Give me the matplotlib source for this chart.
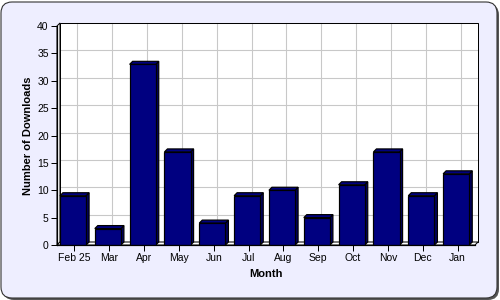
import matplotlib
matplotlib.use("Agg")
import matplotlib.pyplot as plt
from matplotlib.patches import FancyBboxPatch, Polygon, Rectangle
from matplotlib.transforms import IdentityTransform

months = ["Feb 25", "Mar", "Apr", "May", "Jun", "Jul", "Aug", "Sep", "Oct", "Nov", "Dec", "Jan"]
downloads = [9, 3, 33, 17, 4, 9, 10, 5, 11, 17, 9, 13]
y_ticks = [0, 5, 10, 15, 20, 25, 30, 35, 40]

W, H, DPI = 500, 300, 100
plt.rcParams['font.family'] = ['Liberation Sans', 'DejaVu Sans']
fig = plt.figure(figsize=(W / DPI, H / DPI), dpi=DPI)
fig.patch.set_facecolor("white")

# frame with shadow
shadow = FancyBboxPatch((3, 0), 496, 296, boxstyle="round,pad=0,rounding_size=11",
                        transform=IdentityTransform(), facecolor="#555555", edgecolor="none", zorder=-10)
frame = FancyBboxPatch((1, 2), 496, 296, boxstyle="round,pad=0,rounding_size=11",
                       transform=IdentityTransform(), facecolor="#EEEEFF", edgecolor="#333333",
                       linewidth=0.8, zorder=-9)
fig.add_artist(shadow)
fig.add_artist(frame)

L, R, T, B = 57, 475, 26, 245
ax = fig.add_axes([L / W, (H - B) / H, (R - L) / W, (B - T) / H])
ax.set_zorder(1)
ax.set_facecolor("none")
n = len(months)
ax.set_xlim(0, n)
ax.set_ylim(0, 40)

px = 1 / DPI * 72
dx = 3 / ((R - L) / n)
dy = 3 / ((B - T) / 40)

# back wall
ax.add_patch(Rectangle((dx, dy), n, 40, facecolor="white", edgecolor="black",
                       linewidth=px, clip_on=False, zorder=0.5))
for yv in y_ticks:
    ax.plot([dx, n + dx], [yv + dy, yv + dy], color="#C8C8C8", lw=px * 1.1, clip_on=False, zorder=0.6)
for i in range(n):
    ax.plot([i + 0.5 + dx, i + 0.5 + dx], [dy, 40 + dy], color="#C8C8C8", lw=px * 1.1, clip_on=False, zorder=0.6)
ax.add_patch(Rectangle((dx, dy), n, 40, facecolor="none", edgecolor="black",
                       linewidth=px, clip_on=False, zorder=0.7))
# left wall
ax.add_patch(Polygon([(0, 0), (0, 40), (dx, 40 + dy), (dx, dy)], closed=True, facecolor="white",
                     edgecolor="black", linewidth=px, clip_on=False, zorder=0.8))
# floor
ax.add_patch(Polygon([(0, 0), (n, 0), (n + dx, dy), (dx, dy)], closed=True, facecolor="white",
                     edgecolor="black", linewidth=px, clip_on=False, zorder=0.8))

bw = 0.75
navy = "#000080"
for i, v in enumerate(downloads):
    x0 = i + 0.5 - bw / 2 - 0.04
    x1 = x0 + bw
    side = Polygon([(x1, 0), (x1 + dx, dy), (x1 + dx, v + dy), (x1, v)], closed=True,
                   facecolor="#000060", edgecolor="black", linewidth=px * 1.2, zorder=2)
    top = Polygon([(x0, v), (x1, v), (x1 + dx, v + dy), (x0 + dx, v + dy)], closed=True,
                  facecolor=navy, edgecolor="black", linewidth=px * 1.2, zorder=2)
    ax.add_patch(side)
    ax.add_patch(top)
    ax.add_patch(Rectangle((x0, 0), bw, v, facecolor=navy, edgecolor="black",
                           linewidth=px * 1.2, zorder=3))

for s in ["top", "right"]:
    ax.spines[s].set_visible(False)
for s in ["left", "bottom"]:
    ax.spines[s].set_linewidth(px * 1.2)
    ax.spines[s].set_color("black")
    ax.spines[s].set_zorder(4)

ax.set_yticks(y_ticks)
ax.set_yticklabels([str(t) for t in y_ticks])
ax.set_xticks([i + 0.5 for i in range(n)])
ax.set_xticklabels(months)
ax.tick_params(axis="both", length=4, width=px, color="black", labelsize=7.5, pad=2)

ax.set_ylabel("Number of Downloads", fontsize=8, fontweight="bold", labelpad=3)
ax.set_xlabel("Month", fontsize=8, fontweight="bold", labelpad=4)

fig.savefig("out.png", dpi=DPI, facecolor="white")
